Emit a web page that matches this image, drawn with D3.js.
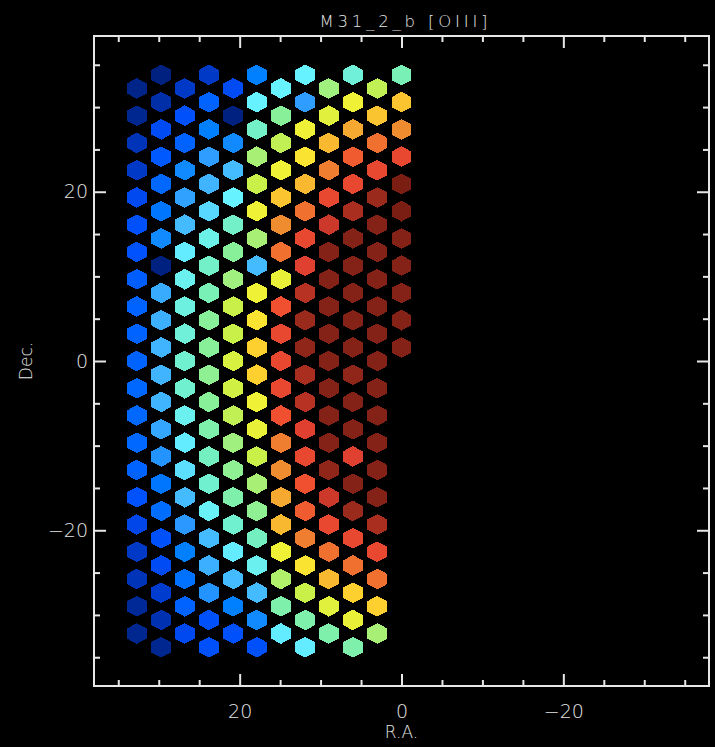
<!DOCTYPE html>
<html>
<head>
<meta charset="utf-8">
<script src="https://cdn.jsdelivr.net/npm/d3@7"></script>
<style>
  html, body { margin: 0; padding: 0; background: #000; }
  svg { display: block; }
  text { font-family: "DejaVu Sans", sans-serif; font-weight: 200; fill: #e6e6e6; }
</style>
</head>
<body>
<svg id="chart" width="715" height="747"></svg>
<script>
// ---- labels and ticks ----
const chartTitle = "M31_2_b [OIII]";
const xLabel = "R.A.";
const yLabel = "Dec.";
const xMajorTicks = [20, 0, -20];
const yMajorTicks = [20, 0, -20];
const minorTicks = [35, 30, 25, 15, 10, 5, -5, -10, -15, -25, -30, -35];

// ---- fiber columns (RA offset, arcsec) ----
const columnRA = [32.7, 29.7, 26.8, 23.8, 20.8, 17.9, 14.9, 11.9, 9.0, 6.0, 3.0, 0.0];

// [OIII] flux per fiber, colour-table index 0-100, listed north to south
const flux01 = [2, 3, 8, 10, 16, 19, 20, 22, 23, 23, 23, 24, 24, 24, 23, 20, 15, 10, 8, 4, 3];
const flux02 = [1, 6, 17, 21, 24, 27, 31, 1, 38, 39, 40, 40, 40, 37, 33, 27, 25, 19, 17, 11, 7, 3];
const flux03 = [10, 19, 23, 31, 36, 41, 49, 52, 54, 55, 56, 56, 52, 49, 47, 41, 34, 29, 26, 23, 16];
const flux04 = [10, 23, 29, 35, 40, 46, 53, 57, 59, 62, 62, 63, 62, 60, 58, 56, 51, 41, 39, 33, 19, 19];
const flux05 = [17, 1, 31, 41, 50, 57, 62, 66, 71, 71, 73, 72, 70, 66, 63, 60, 56, 49, 41, 29, 19];
const flux06 = [29, 50, 57, 67, 71, 76, 67, 41, 76, 79, 81, 81, 76, 75, 71, 67, 63, 58, 52, 41, 31, 19];
const flux07 = [50, 62, 70, 76, 82, 86, 88, 75, 91, 92, 92, 92, 91, 87, 86, 84, 83, 76, 68, 60, 49];
const flux08 = [50, 35, 76, 79, 83, 88, 92, 93, 95, 97, 98, 96, 95, 93, 92, 91, 90, 87, 79, 71, 60, 49];
const flux09 = [66, 74, 83, 87, 92, 94, 99, 99, 99, 99, 99, 99, 99, 99, 98, 94, 92, 88, 83, 74, 60];
const flux10 = [55, 76, 84, 90, 92, 96, 99, 99, 99, 99, 99, 98, 99, 99, 93, 99, 97, 92, 88, 81, 75, 60];
const flux11 = [70, 82, 88, 92, 97, 99, 99, 99, 99, 99, 99, 99, 99, 99, 99, 99, 96, 92, 88, 81, 67];
const flux12 = [59, 82, 86, 92, 100, 100, 99, 99, 99, 99, 99];

const fluxColumns = [flux01, flux02, flux03, flux04, flux05, flux06,
                     flux07, flux08, flux09, flux10, flux11, flux12];

// ---- colour table ----
const cmapStops  = [0, 8, 16, 20, 24, 29, 34, 40, 46, 50, 55, 58, 62, 66, 71, 75, 77, 80, 83, 86, 88, 91, 93, 95, 97, 100];
const cmapColors = ["#001e78", "#0034b8", "#0048f0", "#0052ff", "#0068ff", "#0080ff", "#2a98ff",
                    "#40b4ff", "#58d8ff", "#66f2ff", "#70f0d8", "#74f0c0", "#88f098", "#a0f080",
                    "#c8f048", "#e8f038", "#f4f232", "#ffdc30", "#f8b830", "#f08c30", "#f07030",
                    "#f05030", "#e04030", "#b83224", "#9a2a1c", "#7a1e14"];
const color = d3.scaleLinear().domain(cmapStops).range(cmapColors)
  .interpolate(d3.interpolateRgb).clamp(true);

// ---- layout ----
const W = 715, H = 747;
const box = { left: 94, right: 709, top: 36, bottom: 686 };
const x = d3.scaleLinear().domain([38, -38]).range([box.left, box.right]);
const y = d3.scaleLinear().domain([38.4, -38.4]).range([box.top, box.bottom]);

const decStep = 3.22;          // fiber row pitch in Dec
const decTopLow = 32.2;        // first fiber of columns 1,3,5,...
const decTopHigh = 33.8;       // first fiber of columns 2,4,6,...
const fiberHalf = 1.22;        // half-size of a fiber hexagon, arcsec

const fibers = [];
fluxColumns.forEach((vals, ci) => {
  const d0 = ci % 2 === 0 ? decTopLow : decTopHigh;
  vals.forEach((v, k) => fibers.push({ ra: columnRA[ci], dec: d0 - k * decStep, v }));
});

const svg = d3.select("#chart");
svg.append("rect").attr("width", W).attr("height", H).attr("fill", "#000");

const hw = Math.abs(x(fiberHalf) - x(0));
const hh = Math.abs(y(fiberHalf) - y(0));
const hexPath = `M0,${-hh}L${hw},${-hh / 2}L${hw},${hh / 2}L0,${hh}L${-hw},${hh / 2}L${-hw},${-hh / 2}Z`;

svg.append("g").attr("class", "fibers")
  .selectAll("path").data(fibers).join("path")
  .attr("d", hexPath)
  .attr("transform", d => `translate(${x(d.ra)},${y(d.dec)})`)
  .attr("fill", d => color(d.v))
  .attr("shape-rendering", "crispEdges");

// ---- axes ----
const axisColor = "#e6e6e6";
function styleAxis(g) {
  g.select(".domain").remove();
  g.selectAll("line").attr("stroke", axisColor).attr("stroke-width", 2);
  g.selectAll("text").attr("fill", axisColor).style("font-size", "19px")
    .style("font-family", "\"DejaVu Sans\", sans-serif").style("font-weight", 200);
}

svg.append("g").attr("transform", `translate(0,${box.bottom})`)
  .call(d3.axisBottom(x).tickValues(xMajorTicks).tickSize(-12).tickPadding(19)
        .tickFormat(d => d === 0 ? "0" : d3.format("")(d).replace("-", "\u2212")))
  .call(styleAxis);
svg.append("g").attr("transform", `translate(0,${box.bottom})`)
  .call(d3.axisBottom(x).tickValues(minorTicks).tickSize(-6).tickFormat(""))
  .call(styleAxis);
svg.append("g").attr("transform", `translate(0,${box.top})`)
  .call(d3.axisTop(x).tickValues(xMajorTicks).tickSize(-12).tickFormat(""))
  .call(styleAxis);
svg.append("g").attr("transform", `translate(0,${box.top})`)
  .call(d3.axisTop(x).tickValues(minorTicks).tickSize(-6).tickFormat(""))
  .call(styleAxis);

svg.append("g").attr("transform", `translate(${box.left},0)`)
  .call(d3.axisLeft(y).tickValues(yMajorTicks).tickSize(-12).tickPadding(6)
        .tickFormat(d => d === 0 ? "0" : d3.format("")(d).replace("-", "\u2212")))
  .call(styleAxis);
svg.append("g").attr("transform", `translate(${box.left},0)`)
  .call(d3.axisLeft(y).tickValues(minorTicks).tickSize(-6).tickFormat(""))
  .call(styleAxis);
svg.append("g").attr("transform", `translate(${box.right},0)`)
  .call(d3.axisRight(y).tickValues(yMajorTicks).tickSize(-12).tickFormat(""))
  .call(styleAxis);
svg.append("g").attr("transform", `translate(${box.right},0)`)
  .call(d3.axisRight(y).tickValues(minorTicks).tickSize(-6).tickFormat(""))
  .call(styleAxis);

// frame
svg.append("rect")
  .attr("x", box.left).attr("y", box.top)
  .attr("width", box.right - box.left).attr("height", box.bottom - box.top)
  .attr("fill", "none").attr("stroke", axisColor).attr("stroke-width", 2);

// ---- titles ----
svg.append("text")
  .attr("x", (box.left + box.right) / 2 + 2).attr("y", 27)
  .attr("text-anchor", "middle")
  .style("font-size", "16.5px")
  .attr("textLength", 168).attr("lengthAdjust", "spacing")
  .text(chartTitle);

svg.append("text")
  .attr("x", x(0)).attr("y", 738)
  .attr("text-anchor", "middle")
  .style("font-size", "17px")
  .text(xLabel);

svg.append("text")
  .attr("transform", `translate(32,${y(0)}) rotate(-90)`)
  .attr("text-anchor", "middle")
  .style("font-size", "17px")
  .text(yLabel);
</script>
</body>
</html>
